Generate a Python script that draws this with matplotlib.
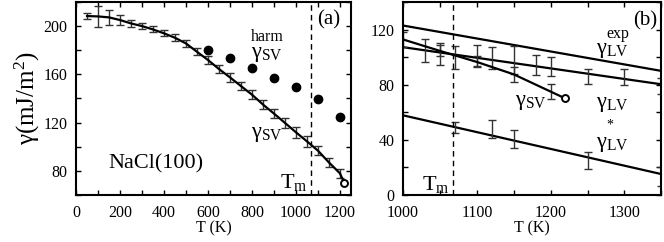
import matplotlib.pyplot as plt
from matplotlib.ticker import MultipleLocator

plt.rcParams.update({
    "font.family": "Liberation Serif",
    "mathtext.fontset": "custom",
    "mathtext.rm": "Liberation Serif",
    "mathtext.it": "Liberation Serif:italic",
    "font.size": 11.5,
    "axes.linewidth": 1.5,
})

# panel (a): NaCl(100) solid-vapour surface tension
t_sv = [50, 100, 150, 200, 250, 300, 350, 400, 450, 500, 550, 600,
        650, 700, 750, 800, 850, 900, 950, 1000, 1050, 1100, 1150, 1200]
g_sv = [208.3, 208, 207.2, 205, 202.2, 200, 197.2, 194, 190.3, 185.6, 178.7, 171.9,
        164.4, 157.5, 150.3, 143.2, 135, 127.5, 119.8, 112, 104.5, 96.8, 87, 78]
e_sv = [2.5, 8.5, 6, 4, 3, 2.5, 2.5, 2.5, 3, 3, 3, 3.5,
        3.5, 3.5, 3.5, 3.5, 3.5, 3.5, 4, 4.5, 4.5, 3.5, 3.5, 3.5]
t_end, g_end = 1220, 70
t_harm = [600, 700, 800, 900, 1000, 1100, 1200]
g_harm = [180, 173.2, 165, 157.2, 149.3, 139.3, 124.5]
t_melt = 1068

# panel (b): liquid-vapour values near melting
t_exp = [1000, 1350]
g_exp = [122.9, 90]
t_lv_fit = [1000, 1350]
g_lv_fit = [107.2, 80.3]
t_lv = [1030, 1050, 1070, 1100, 1120, 1150, 1180, 1200, 1250, 1300, 1350]
g_lv = [104.8, 102.2, 99.7, 101, 99.4, 98, 94, 93, 86.2, 85.3, 79]
e_lv = [8, 8.2, 8, 7.8, 7.8, 10, 7.2, 7, 5.4, 5.8, 5.5]
t_sv_b = [1000, 1050, 1100, 1150, 1200]
g_sv_b = [112.8, 104.5, 96.5, 87.5, 75]
e_sv_b = [5.5, 4, 4, 5.5, 5.5]
t_star_fit = [1000, 1350]
g_star_fit = [57.8, 15.2]
t_star = [1070, 1120, 1150, 1250, 1350]
g_star = [49, 48.2, 40.7, 25, 13.5]
e_star = [4, 6.5, 6.3, 6.4, 7]

fig = plt.figure(figsize=(6.64, 2.42), dpi=100)
ax1 = fig.add_axes([0.1145, 0.194, 0.414, 0.798])
ax2 = fig.add_axes([0.607, 0.194, 0.389, 0.798])

ebar = dict(fmt="none", ecolor="#333333", elinewidth=1.0, capsize=2.8, capthick=1.0)
gam = 16

# ---- (a)
ax1.plot(t_sv + [t_end], g_sv + [g_end], color="black", lw=1.6, zorder=3)
ax1.errorbar(t_sv, g_sv, yerr=e_sv, **ebar)
ax1.plot([t_end], [g_end], "o", ms=5, mfc="white", mec="black", mew=1.4, zorder=4)
ax1.plot(t_harm, g_harm, "o", ms=6, color="black", zorder=4)
ax1.axvline(t_melt, color="black", lw=1.0, ls=(0, (4, 3)))
ax1.set_xlim(0, 1250)
ax1.set_ylim(60, 220)
ax1.xaxis.set_major_locator(MultipleLocator(200))
ax1.xaxis.set_minor_locator(MultipleLocator(100))
ax1.yaxis.set_major_locator(MultipleLocator(40))
ax1.yaxis.set_minor_locator(MultipleLocator(20))
ax1.set_xlabel("T (K)", labelpad=0)
ax1.set_ylabel(r"γ(mJ/m$^2$)", fontsize=18, labelpad=1)
ax1.text(1150, 205, "(a)", fontsize=15, ha="center", va="center")
ax1.text(365, 86, "NaCl(100)", fontsize=16, ha="center", va="center")
ax1.text(795, 174, r"$\mathrm{γ_{SV}}$", fontsize=gam, ha="left", va="baseline")
ax1.text(795, 188, "harm", fontsize=11.5, ha="left", va="baseline")
ax1.text(795, 108, r"$\mathrm{γ_{SV}}$", fontsize=gam, ha="left", va="baseline")
ax1.text(1052, 66, r"$\mathrm{T_m}$", fontsize=gam, ha="right", va="baseline")

# ---- (b)
ax2.plot(t_exp, g_exp, color="black", lw=1.6)
ax2.plot(t_lv_fit, g_lv_fit, color="black", lw=1.6)
ax2.errorbar(t_lv, g_lv, yerr=e_lv, **ebar)
ax2.plot(t_sv_b + [t_end], g_sv_b + [g_end], color="black", lw=1.6, zorder=3)
ax2.errorbar(t_sv_b, g_sv_b, yerr=e_sv_b, **ebar)
ax2.plot([t_end], [g_end], "o", ms=5, mfc="white", mec="black", mew=1.4, zorder=4)
ax2.plot(t_star_fit, g_star_fit, color="black", lw=1.6)
ax2.errorbar(t_star, g_star, yerr=e_star, **ebar)
ax2.axvline(t_melt, color="black", lw=1.0, ls=(0, (4, 3)))
ax2.set_xlim(1000, 1350)
ax2.set_ylim(0, 140)
ax2.xaxis.set_major_locator(MultipleLocator(100))
ax2.xaxis.set_minor_locator(MultipleLocator(50))
ax2.yaxis.set_major_locator(MultipleLocator(40))
ax2.yaxis.set_minor_locator(MultipleLocator(20))
ax2.set_xlabel("T (K)", labelpad=0)
ax2.text(1328, 126, "(b)", fontsize=15, ha="center", va="center")
ax2.text(1262, 103, r"$\mathrm{γ_{LV}}$", fontsize=gam, ha="left", va="baseline")
ax2.text(1276, 114, "exp", fontsize=11.5, ha="left", va="baseline")
ax2.text(1262, 64, r"$\mathrm{γ_{LV}}$", fontsize=gam, ha="left", va="baseline")
ax2.text(1152, 65, r"$\mathrm{γ_{SV}}$", fontsize=gam, ha="left", va="baseline")
ax2.text(1262, 35, r"$\mathrm{γ_{LV}}$", fontsize=gam, ha="left", va="baseline")
ax2.text(1276, 48, "*", fontsize=10, ha="left", va="baseline")
ax2.text(1063, 4, r"$\mathrm{T_m}$", fontsize=gam, ha="right", va="baseline")

for ax in (ax1, ax2):
    ax.tick_params(which="both", direction="in", top=True, right=True, width=1.0)
    ax.tick_params(which="major", length=3.5)
    ax.tick_params(which="minor", length=3.5)
    ax.tick_params(axis="x", pad=7)
    ax.tick_params(axis="y", pad=6)

fig.savefig("out.png", dpi=100)
